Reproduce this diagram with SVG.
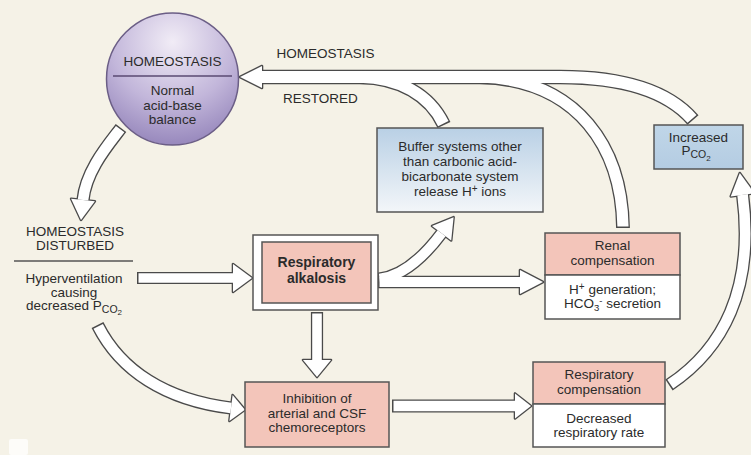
<svg xmlns="http://www.w3.org/2000/svg" xmlns:xlink="http://www.w3.org/1999/xlink" width="751" height="455" viewBox="0 0 751 455">
  <defs>
    <style>
      text { font-family: "Liberation Sans", Arial, sans-serif; font-size: 13.5px; fill: #2b2b2b; text-anchor: middle; }
      .b { font-weight: bold; font-size: 14px; }
      .box { stroke: #555; stroke-width: 1.5; }
      .pink { fill: #f3c5ba; }
      .white { fill: #ffffff; }
      .rule { stroke: #555; stroke-width: 1.3; fill: none; }
      .o { fill: none; stroke: #4a4a4a; stroke-linejoin: round; }
      .w { fill: none; stroke: #ffffff; stroke-dasharray: 0 1.5 5000; }
      .ho { fill: #4a4a4a; stroke: #4a4a4a; stroke-width: 2.6; stroke-linejoin: round; }
      .hw { fill: #ffffff; stroke: none; }
    </style>
    <radialGradient id="sphere" cx="50%" cy="22%" r="85%">
      <stop offset="0" stop-color="#f1ecf6"/>
      <stop offset="0.55" stop-color="#c2b6da"/>
      <stop offset="1" stop-color="#8e7eb6"/>
    </radialGradient>
    <linearGradient id="blueFade" x1="0" y1="0" x2="0" y2="1">
      <stop offset="0" stop-color="#b9d0e5"/>
      <stop offset="1" stop-color="#f3f6f9"/>
    </linearGradient>
    <linearGradient id="blueFlat" x1="0" y1="0" x2="0" y2="1">
      <stop offset="0" stop-color="#c0d6e8"/>
      <stop offset="1" stop-color="#b4cce2"/>
    </linearGradient>

    <!-- shaft centre-lines (tail first, so the white layer leaves an outlined tail end) -->
    <path id="s-restore" d="M693,120 C668,91 625,77 560,77 L262,77"/>
    <path id="s-bufRet" d="M444,125 C430,95 400,78 360,77"/>
    <path id="s-renRet" d="M623,228 C622,150 580,80 480,77"/>
    <path id="s-toRenal" d="M378,282 L520,282"/>
    <path id="s-toBuf" d="M378,279 C408,276 432,246 441.6,233.2"/>
    <path id="s-hyper" d="M137,278 L233,278"/>
    <path id="s-down" d="M317,312 L317,360"/>
    <path id="s-pco2" d="M97.5,325 C120,370 165,400 231,408"/>
    <path id="s-inhib" d="M392,406 L515,406"/>
    <path id="s-resp" d="M669,385 C722,350 755,290 742.6,194.8"/>
    <path id="s-disturb" d="M121,128 C109,144 86,170 83,200"/>

    <!-- arrowheads -->
    <polygon id="h-restore" points="262,66 262,88 240,77"/>
    <polygon id="h-toRenal" points="520,270 520,294 543,282"/>
    <polygon id="h-toBuf" points="451.2,240.4 432,226 453.6,217.2"/>
    <polygon id="h-hyper" points="233,264 233,292 252,278"/>
    <polygon id="h-down" points="303,360 331,360 317,377"/>
    <polygon id="h-pco2" points="229.4,420.9 232.6,395.1 244.9,409.7"/>
    <polygon id="h-inhib" points="515,393.5 515,418.5 531,406"/>
    <polygon id="h-resp" points="754.5,193.2 730.7,196.4 739.8,173"/>
    <polygon id="h-disturb" points="94.9,201.2 71.1,198.8 81,219.9"/>
  </defs>

  <rect x="0" y="0" width="751" height="455" fill="#f5f2e7"/>

  <!-- block arrows: dark outline layer first, white body layer on top -->
  <g id="connectors">
    <g id="arrow-outlines">
      <use xlink:href="#s-restore" class="o" style="stroke-width:14.6"/>
      <use xlink:href="#s-bufRet" class="o" style="stroke-width:14.2"/>
      <use xlink:href="#s-renRet" class="o" style="stroke-width:13.8"/>
      <use xlink:href="#s-toRenal" class="o" style="stroke-width:12.6"/>
      <use xlink:href="#s-toBuf" class="o" style="stroke-width:12.6"/>
      <use xlink:href="#s-hyper" class="o" style="stroke-width:12.2"/>
      <use xlink:href="#s-down" class="o" style="stroke-width:12.2"/>
      <use xlink:href="#s-pco2" class="o" style="stroke-width:13.2"/>
      <use xlink:href="#s-inhib" class="o" style="stroke-width:13.2"/>
      <use xlink:href="#s-resp" class="o" style="stroke-width:13.2"/>
      <use xlink:href="#s-disturb" class="o" style="stroke-width:13.2"/>
      <use xlink:href="#h-restore" class="ho"/>
      <use xlink:href="#h-toRenal" class="ho"/>
      <use xlink:href="#h-toBuf" class="ho"/>
      <use xlink:href="#h-hyper" class="ho"/>
      <use xlink:href="#h-down" class="ho"/>
      <use xlink:href="#h-pco2" class="ho"/>
      <use xlink:href="#h-inhib" class="ho"/>
      <use xlink:href="#h-resp" class="ho"/>
      <use xlink:href="#h-disturb" class="ho"/>
    </g>
    <g id="arrow-bodies">
      <use xlink:href="#s-restore" class="w" style="stroke-width:12"/>
      <use xlink:href="#s-bufRet" class="w" style="stroke-width:11.6"/>
      <use xlink:href="#s-renRet" class="w" style="stroke-width:11.2"/>
      <use xlink:href="#s-toRenal" class="w" style="stroke-width:10"/>
      <use xlink:href="#s-toBuf" class="w" style="stroke-width:10"/>
      <use xlink:href="#s-hyper" class="w" style="stroke-width:9.6"/>
      <use xlink:href="#s-down" class="w" style="stroke-width:9.6"/>
      <use xlink:href="#s-pco2" class="w" style="stroke-width:10.6"/>
      <use xlink:href="#s-inhib" class="w" style="stroke-width:10.6"/>
      <use xlink:href="#s-resp" class="w" style="stroke-width:10.6"/>
      <use xlink:href="#s-disturb" class="w" style="stroke-width:10.6"/>
      <use xlink:href="#h-restore" class="hw"/>
      <use xlink:href="#h-toRenal" class="hw"/>
      <use xlink:href="#h-toBuf" class="hw"/>
      <use xlink:href="#h-hyper" class="hw"/>
      <use xlink:href="#h-down" class="hw"/>
      <use xlink:href="#h-pco2" class="hw"/>
      <use xlink:href="#h-inhib" class="hw"/>
      <use xlink:href="#h-resp" class="hw"/>
      <use xlink:href="#h-disturb" class="hw"/>
    </g>
    <g id="arrow-labels">
      <text x="325.5" y="58">HOMEOSTASIS</text>
      <text x="320.5" y="103">RESTORED</text>
    </g>
  </g>

  <g id="homeostasis">
    <circle cx="172.5" cy="79" r="66" fill="url(#sphere)" stroke="#6b5e86" stroke-width="1.5"/>
    <line x1="113" y1="76" x2="232" y2="76" stroke="#5a4a72" stroke-width="1.3"/>
    <text x="172.5" y="66">HOMEOSTASIS</text>
    <text x="172.5" y="95">Normal</text>
    <text x="172.5" y="109.5">acid-base</text>
    <text x="172.5" y="124">balance</text>
  </g>

  <g id="disturbed">
    <text x="75" y="236">HOMEOSTASIS</text>
    <text x="75" y="250">DISTURBED</text>
    <line class="rule" x1="14" y1="261" x2="133" y2="261"/>
    <text x="74" y="283">Hyperventilation</text>
    <text x="74" y="297">causing</text>
    <text x="74" y="310">decreased P<tspan font-size="10.5" dy="2.5">CO</tspan><tspan font-size="8" dy="2.5">2</tspan></text>
  </g>

  <g id="alkalosis">
    <rect class="box white" x="253" y="235" width="125" height="75" stroke-width="2"/>
    <rect class="box pink" x="262" y="242" width="109" height="61"/>
    <text class="b" x="316.5" y="267">Respiratory</text>
    <text class="b" x="316.5" y="283">alkalosis</text>
  </g>

  <g id="buffer">
    <rect class="box" x="377" y="128" width="166" height="84" fill="url(#blueFade)"/>
    <text x="460" y="151">Buffer systems other</text>
    <text x="460" y="166">than carbonic acid-</text>
    <text x="460" y="181">bicarbonate system</text>
    <text x="460" y="196">release H<tspan font-size="10" dy="-4">+</tspan><tspan dy="4"> ions</tspan></text>
  </g>

  <g id="pco2">
    <rect class="box" x="654" y="125" width="89" height="44" fill="url(#blueFlat)"/>
    <text x="698.5" y="142">Increased</text>
    <text x="696" y="155">P<tspan font-size="10.5" dy="3">CO</tspan><tspan font-size="8" dy="2.5">2</tspan></text>
  </g>

  <g id="renal">
    <rect class="box pink" x="545" y="233" width="135" height="42"/>
    <rect class="box white" x="545" y="275" width="135" height="44"/>
    <text x="612.5" y="250">Renal</text>
    <text x="612.5" y="265">compensation</text>
    <text x="612.5" y="294">H<tspan font-size="10" dy="-4">+</tspan><tspan dy="4"> generation;</tspan></text>
    <text x="612.5" y="308">HCO<tspan font-size="9.5" dy="2.5">3</tspan><tspan font-size="9.5" dy="-7">-</tspan><tspan dy="4.5"> secretion</tspan></text>
  </g>

  <g id="inhibition">
    <rect class="box pink" x="245" y="382" width="144" height="65"/>
    <text x="317" y="403">Inhibition of</text>
    <text x="317" y="418">arterial and CSF</text>
    <text x="317" y="432">chemoreceptors</text>
  </g>

  <g id="respiratory-compensation">
    <rect class="box pink" x="533" y="362" width="132" height="42"/>
    <rect class="box white" x="533" y="404" width="132" height="43"/>
    <text x="599" y="379">Respiratory</text>
    <text x="599" y="394">compensation</text>
    <text x="599" y="423">Decreased</text>
    <text x="599" y="437">respiratory rate</text>
  </g>

  <rect x="9" y="439" width="19" height="16" rx="2" fill="#ffffff" opacity="0.75"/>
</svg>
